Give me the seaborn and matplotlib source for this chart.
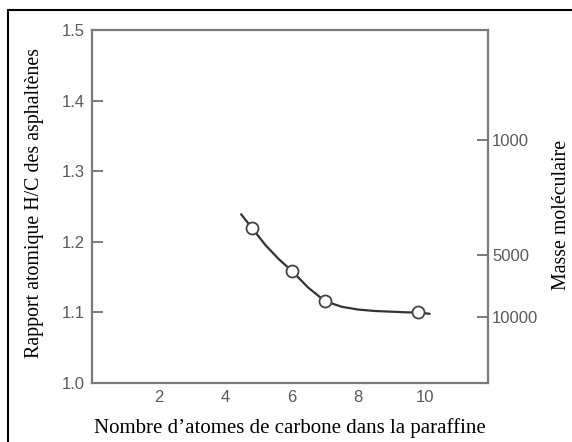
import seaborn as sns
import matplotlib.pyplot as plt
from matplotlib.lines import Line2D

# data
carbon_pts = [4.8, 6.0, 7.0, 9.8]
hc_pts = [1.220, 1.159, 1.116, 1.101]

# fitted curve (read point by point)
curve_x = [4.48, 4.8, 5.2, 5.6, 6.0, 6.5, 7.0, 7.5, 8.0, 8.5, 9.0, 9.5, 9.8, 10.15]
curve_y = [1.239, 1.220, 1.196, 1.176, 1.159, 1.135, 1.116, 1.108, 1.104, 1.102, 1.101, 1.100, 1.100, 1.098]

# molecular mass axis (right), positions in H/C units
mass_pos = [1.344, 1.181, 1.094]
mass_labels = ["1000", "5000", "10000"]

sns.set_style("white")
plt.rcParams["font.family"] = ["Liberation Sans", "DejaVu Sans"]

fig = plt.figure(figsize=(5.72, 4.42), dpi=100)
ax = fig.add_axes([0.161, 0.1335, 0.692, 0.7986])

sns.lineplot(x=curve_x, y=curve_y, ax=ax, color="#333333", linewidth=1.6, sort=False)
sns.scatterplot(x=carbon_pts, y=hc_pts, ax=ax, s=75, facecolor="white",
                edgecolor="#444444", linewidth=1.3, zorder=3)

ax.set_xlim(0, 11.9)
ax.set_ylim(1.0, 1.5)
ax.set_xticks([2, 4, 6, 8, 10])
ax.set_yticks([1.0, 1.1, 1.2, 1.3, 1.4, 1.5])
ax.set_yticklabels(["1.0", "1.1", "1.2", "1.3", "1.4", "1.5"])

spine_col = "#7a7a7a"
for s in ax.spines.values():
    s.set_color(spine_col)
    s.set_linewidth(1.6)

ax.tick_params(axis="both", direction="in", length=8, width=1.4, color=spine_col,
               labelcolor="#5a5a5a", labelsize=12)
ax.tick_params(axis="y", pad=5)
ax.tick_params(axis="x", pad=5)

serif = ["Liberation Serif", "DejaVu Serif"]
ax.set_xlabel("Nombre d\u2019atomes de carbone dans la paraffine", family=serif,
              fontsize=15, color="black")
ax.xaxis.set_label_coords(0.5, -0.100)
ax.set_ylabel("Rapport atomique H/C des asphaltènes", family=serif,
              fontsize=14.3, color="black")
ax.yaxis.set_label_coords(-0.121, 0.51)

ax2 = ax.twinx()
ax2.set_ylim(ax.get_ylim())
ax2.set_yticks(mass_pos)
ax2.set_yticklabels(mass_labels)
for s in ax2.spines.values():
    s.set_visible(False)
ax2.tick_params(axis="y", direction="in", length=8, width=1.4, color=spine_col,
                labelcolor="#5a5a5a", labelsize=12, pad=3)
ax2.set_ylabel("Masse moléculaire", family=serif, fontsize=14.3, color="black")
ax2.yaxis.set_label_coords(1.1616, 0.476)
ax2.grid(False)

# frame around the figure (top and left visible)
fig.add_artist(Line2D([8 / 572, 1.0], [1 - 10 / 442, 1 - 10 / 442],
                      color="black", linewidth=1.5, transform=fig.transFigure))
fig.add_artist(Line2D([8 / 572, 8 / 572], [0.0, 1 - 10 / 442],
                      color="black", linewidth=1.5, transform=fig.transFigure))

fig.savefig("out.png", dpi=100)
